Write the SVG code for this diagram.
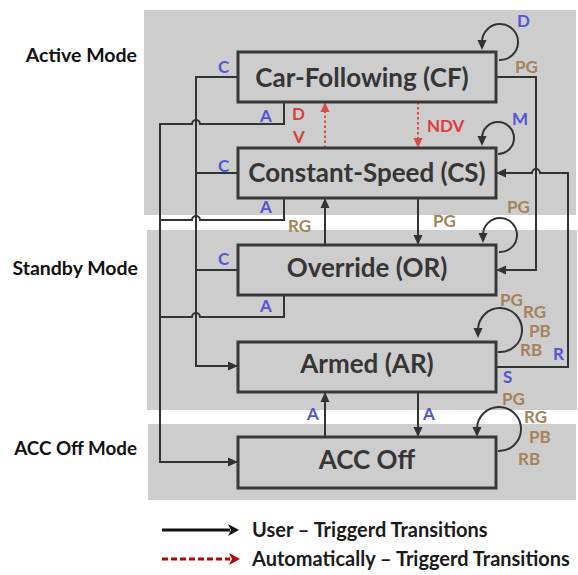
<svg xmlns="http://www.w3.org/2000/svg" width="578" height="575" viewBox="0 0 578 575">
  <style>
    .panel { fill: #cdcdcd; }
    .box { fill: #cdcdcd; stroke: #383838; stroke-width: 3; }
    .name { font-family: Lato, "Open Sans", sans-serif; font-weight: 700; font-size: 26px; fill: #363636; text-anchor: middle; }
    .mode { font-family: Lato, "Open Sans", sans-serif; font-weight: 700; font-size: 19.5px; fill: #111; text-anchor: end; }
    .lbl { font-family: Lato, "Open Sans", sans-serif; font-weight: 700; font-size: 17px; }
    .blue { fill: #5454d6; }
    .tan { fill: #a5825a; }
    .red { fill: #e03a3a; }
    .legend { font-family: Lato, "Open Sans", sans-serif; font-weight: 700; font-size: 20px; fill: #1a1a1a; }
    .wire { fill: none; stroke: #333; stroke-width: 2; }
    .auto { fill: none; stroke: #e04848; stroke-width: 2; stroke-dasharray: 2.5 2.5; }
  </style>
  <defs>
    <marker id="ah" markerUnits="userSpaceOnUse" markerWidth="11" markerHeight="10" refX="10" refY="5" orient="auto">
      <path d="M0,0.5 L10,5 L0,9.5 Z" fill="#333"/>
    </marker>
    <marker id="ahLoop" markerUnits="userSpaceOnUse" markerWidth="11" markerHeight="10" refX="2" refY="5" orient="auto">
      <path d="M0,0.5 L10,5 L0,9.5 Z" fill="#333"/>
    </marker>
    <marker id="ahRed" markerUnits="userSpaceOnUse" markerWidth="11" markerHeight="10" refX="10" refY="5" orient="auto">
      <path d="M0,0.5 L10,5 L0,9.5 Z" fill="#e04848"/>
    </marker>
  </defs>

  <!-- mode bands -->
  <g id="bands">
    <rect class="panel" x="144" y="10" width="432" height="205"/>
    <rect class="panel" x="147" y="230" width="430" height="180"/>
    <rect class="panel" x="148" y="424" width="428" height="76"/>
  </g>
  <g id="mode-labels">
    <text class="mode" x="137" y="62">Active Mode</text>
    <text class="mode" x="138" y="275">Standby Mode</text>
    <text class="mode" x="137" y="455" style="font-size:18.8px">ACC Off Mode</text>
  </g>

  <!-- transitions -->
  <g id="connectors">
    <!-- C: cancel to Armed -->
    <path class="wire" d="M238,77 H196 V366 H238" marker-end="url(#ah)"/>
    <path class="wire" d="M238,173 H196"/>
    <path class="wire" d="M238,270 H196"/>
    <!-- A: to ACC Off, hopping over the C bus -->
    <path class="wire" d="M284,102 V124 H200 A4,4 0 0 0 192,124 H160 V462 H238" marker-end="url(#ah)"/>
    <path class="wire" d="M284,198 V220 H200 A4,4 0 0 0 192,220 H160"/>
    <path class="wire" d="M284,295 V317 H200 A4,4 0 0 0 192,317 H160"/>
    <!-- PG from CF to OR -->
    <path class="wire" d="M496,77 H536 V270 H496" marker-end="url(#ah)"/>
    <!-- R / S from Armed to CS -->
    <path class="wire" d="M496,367 H568 V173 H540 A4,4 0 0 0 532,173 H496" marker-end="url(#ah)"/>
    <!-- CS <-> OR -->
    <path class="wire" d="M325,245 V198" marker-end="url(#ah)"/>
    <path class="wire" d="M418,198 V245" marker-end="url(#ah)"/>
    <!-- Armed <-> ACC Off -->
    <path class="wire" d="M325,437 V392" marker-end="url(#ah)"/>
    <path class="wire" d="M418,392 V437" marker-end="url(#ah)"/>
    <!-- automatic CS <-> CF -->
    <path class="auto" d="M325,148 V102" marker-end="url(#ahRed)"/>
    <path class="auto" d="M418,102 V148" marker-end="url(#ahRed)"/>
    <!-- self loops -->
    <path class="wire" d="M499,60 A18,18 0 1 0 482,42" marker-end="url(#ahLoop)"/>
    <path class="wire" d="M498,154 A16,16 0 1 0 482,138" marker-end="url(#ahLoop)"/>
    <path class="wire" d="M499,252 A17,17 0 1 0 483,235" marker-end="url(#ahLoop)"/>
    <path class="wire" d="M498,352 A22,22 0 1 0 478,330" marker-end="url(#ahLoop)"/>
    <path class="wire" d="M498,451 A22,22 0 1 0 477,429" marker-end="url(#ahLoop)"/>
  </g>

  <!-- states -->
  <g id="cf">
    <rect class="box" x="238" y="52" width="258" height="50"/>
    <text class="name" x="362" y="87">Car-Following (CF)</text>
  </g>
  <g id="cs">
    <rect class="box" x="238" y="148" width="258" height="50"/>
    <text class="name" x="367" y="182">Constant-Speed (CS)</text>
  </g>
  <g id="or">
    <rect class="box" x="238" y="245" width="258" height="50"/>
    <text class="name" x="367" y="277">Override (OR)</text>
  </g>
  <g id="ar">
    <rect class="box" x="238" y="342" width="258" height="50"/>
    <text class="name" x="367" y="373">Armed (AR)</text>
  </g>
  <g id="off">
    <rect class="box" x="238" y="437" width="258" height="51"/>
    <text class="name" x="367" y="469">ACC Off</text>
  </g>

  <!-- transition labels -->
  <g id="labels" class="lbl">
    <text class="blue" x="218" y="73">C</text>
    <text class="blue" x="517" y="27">D</text>
    <text class="tan" x="515" y="73">PG</text>
    <text class="blue" x="260" y="122">A</text>
    <text class="red" x="292" y="120">D</text>
    <text class="red" x="293" y="143">V</text>
    <text class="red" x="427" y="132">NDV</text>
    <text class="blue" x="512" y="125">M</text>
    <text class="blue" x="218" y="172">C</text>
    <text class="blue" x="260" y="213">A</text>
    <text class="tan" x="507" y="213">PG</text>
    <text class="tan" x="288" y="232">RG</text>
    <text class="tan" x="433" y="227">PG</text>
    <text class="blue" x="218" y="265">C</text>
    <text class="blue" x="260" y="312">A</text>
    <text class="tan" x="500" y="306">PG</text>
    <text class="tan" x="523" y="318">RG</text>
    <text class="tan" x="529" y="337">PB</text>
    <text class="tan" x="520" y="356">RB</text>
    <text class="blue" x="553" y="360">R</text>
    <text class="blue" x="503" y="383">S</text>
    <text class="blue" x="307" y="420">A</text>
    <text class="blue" x="423" y="420">A</text>
    <text class="tan" x="502" y="405">PG</text>
    <text class="tan" x="524" y="423">RG</text>
    <text class="tan" x="529" y="443">PB</text>
    <text class="tan" x="518" y="465">RB</text>
  </g>

  <!-- key -->
  <g id="key">
    <path d="M162,530 H230" stroke="#111" stroke-width="3"/>
    <path d="M228,524 L239,530 L228,536 L231,530 Z" fill="#111"/>
    <text class="legend" x="252" y="537">User – Triggerd Transitions</text>
    <path d="M162,559 H230" stroke="#c00000" stroke-width="3" stroke-dasharray="6 3"/>
    <path d="M229,553 L240,559 L229,565 L232,559 Z" fill="#c00000"/>
    <text class="legend" x="252" y="566">Automatically – Triggerd Transitions</text>
  </g>
</svg>
